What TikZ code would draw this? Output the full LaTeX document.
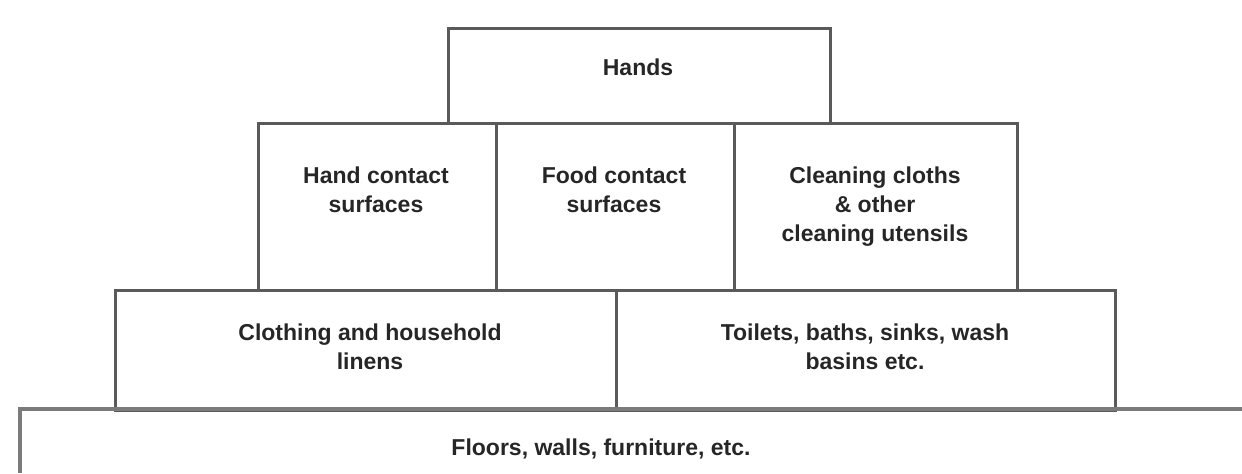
\documentclass[tikz,border=0pt]{standalone}
\usepackage{fontspec}
\setmainfont{Liberation Sans}
\usetikzlibrary{positioning}
\definecolor{boxline}{HTML}{5A5A5A}
\begin{document}
\begin{tikzpicture}[x=0.5pt,y=-0.5pt,
  tier/.style={draw=boxline, line width=1.3pt, anchor=north west, inner sep=0pt},
  tiertext/.style={font=\fontsize{11.5}{14.5}\selectfont\bfseries, text=black!85, align=center, anchor=north, inner sep=0pt}]
\useasboundingbox (0,0) rectangle (1242,473);
% top of the pyramid
\node[tier, minimum width=191pt, minimum height=47.5pt] (hands) at (447,27) {};
% second row
\node[tier, minimum width=119pt, minimum height=83.5pt] (handsurf) at (257,122) {};
\node[tier, minimum width=119pt, minimum height=83.5pt] (foodsurf) at (495,122) {};
\node[tier, minimum width=141.5pt, minimum height=83.5pt] (cloths) at (733,122) {};
% third row
\node[tier, minimum width=250.5pt, minimum height=60pt] (linens) at (114,289) {};
\node[tier, minimum width=249.5pt, minimum height=60pt] (toilets) at (615,289) {};
% base, runs off the page
\draw[draw=boxline!80, line width=1.6pt] (1242,409) -- (20,409) -- (20,473);
% texts
\node[tiertext] (t-hands) at (638,58) {Hands};
\node[tiertext] (t-handsurf) at (376,166) {Hand contact\\surfaces};
\node[tiertext] (t-foodsurf) at (614,166) {Food contact\\surfaces};
\node[tiertext] (t-cloths) at (875,166) {Cleaning cloths\\\& other\\cleaning utensils};
\node[tiertext] (t-linens) at (370,323) {Clothing and household\\linens};
\node[tiertext] (t-toilets) at (865,323) {Toilets, baths, sinks, wash\\basins etc.};
\node[tiertext] (t-floors) at (601,438) {Floors, walls, furniture, etc.};
\end{tikzpicture}
\end{document}
